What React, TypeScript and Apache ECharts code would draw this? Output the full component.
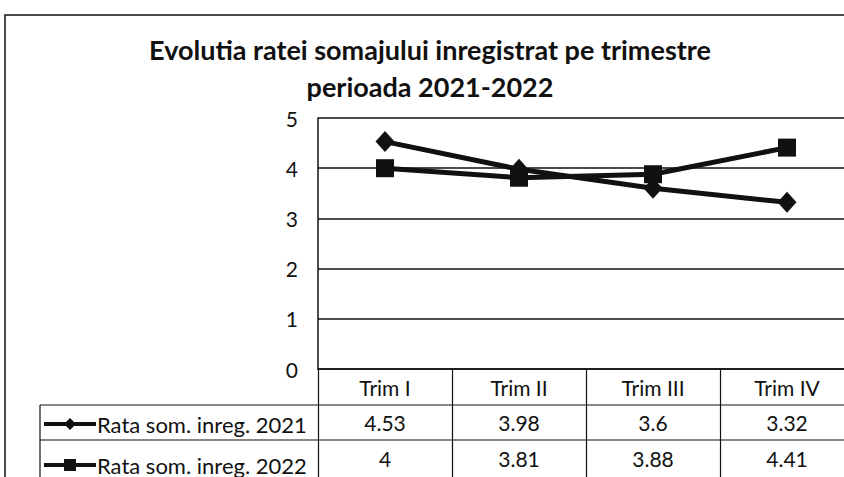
import React, { useEffect, useRef } from "react";
import * as echarts from "echarts";

const categories = ["Trim I", "Trim II", "Trim III", "Trim IV"];
const series2021 = [4.53, 3.98, 3.6, 3.32];
const series2022 = [4, 3.81, 3.88, 4.41];
const seriesNames = ["Rata som. inreg. 2021", "Rata som. inreg. 2022"];
const titleLines = ["Evolutia ratei somajului inregistrat pe trimestre", "perioada 2021-2022"];

const FONT = "Lato, 'Liberation Sans', sans-serif";
const INK = "#111";
const FS = 21;
const CH = 520; // chart canvas height (clipped to 477 by the wrapper)

export default function App() {
  const ref = useRef<HTMLDivElement>(null);
  useEffect(() => {
    if (!ref.current) return;
    const chart = echarts.init(ref.current, undefined, { renderer: "svg" });
    const tableAxis = (idx: number, values: number[]) => ({
      type: "category",
      data: values.map((v) => String(v)),
      position: "bottom",
      offset: 36 * idx,
      boundaryGap: true,
      axisLine: { show: false },
      axisTick: { show: false },
      splitLine: { show: false },
      axisLabel: {
        interval: 0,
        margin: 7,
        color: INK,
        fontFamily: FONT,
        fontSize: FS,
      },
    });
    chart.setOption({
      animation: false,
      backgroundColor: "#fff",
      title: {
        text: titleLines.join("\n"),
        left: "center",
        top: 26,
        textStyle: {
          fontFamily: FONT,
          fontWeight: "bold",
          fontSize: 27,
          lineHeight: 37,
          color: INK,
        },
      },
      legend: {
        orient: "vertical",
        left: 42,
        top: 413,
        padding: 0,
        itemWidth: 52,
        itemHeight: 15,
        itemGap: 19,
        data: seriesNames,
        lineStyle: { width: 4 },
        textStyle: { fontFamily: FONT, fontSize: 22, color: INK, lineHeight: 17, padding: [0, 0, 0, -4] },
      },
      grid: { left: 318, right: 6, top: 118, bottom: CH - 369, containLabel: false },
      xAxis: [
        {
          type: "category",
          data: categories,
          boundaryGap: true,
          axisLine: { show: true, lineStyle: { color: INK, width: 1.5 } },
          axisTick: { show: true, length: 150, lineStyle: { color: INK, width: 1.2 } },
          axisLabel: { interval: 0, margin: 8, color: INK, fontFamily: FONT, fontSize: FS },
        },
        tableAxis(1, series2021),
        tableAxis(2, series2022),
      ],
      yAxis: {
        type: "value",
        min: 0,
        max: 5,
        interval: 1,
        axisLine: { show: true, lineStyle: { color: INK, width: 1.5 } },
        axisTick: { show: false },
        splitLine: { show: true, lineStyle: { color: INK, width: 1.5 } },
        axisLabel: { margin: 20, color: INK, fontFamily: FONT, fontSize: FS },
      },
      series: [
        {
          name: seriesNames[0],
          type: "line",
          data: series2021,
          symbol: "diamond",
          symbolSize: [19, 21],
          lineStyle: { color: INK, width: 5 },
          itemStyle: { color: INK },
        },
        {
          name: seriesNames[1],
          type: "line",
          data: series2022,
          symbol: "rect",
          symbolSize: 18,
          lineStyle: { color: INK, width: 5 },
          itemStyle: { color: INK },
        },
      ],
      graphic: [
        {
          type: "rect",
          shape: { x: 5, y: 15, width: 900, height: 600 },
          style: { fill: "none", stroke: INK, lineWidth: 1.5 },
          silent: true,
        },
        {
          type: "line",
          shape: { x1: 40, y1: 405, x2: 860, y2: 405 },
          style: { stroke: INK, lineWidth: 1.2 },
        },
        {
          type: "line",
          shape: { x1: 40, y1: 440, x2: 860, y2: 440 },
          style: { stroke: INK, lineWidth: 1.2 },
        },
        {
          type: "line",
          shape: { x1: 40, y1: 405, x2: 40, y2: 520 },
          style: { stroke: INK, lineWidth: 1.2 },
        },
      ],
    });
    return () => chart.dispose();
  }, []);
  return (
    <div style={{ position: "absolute", left: 0, top: 0, width: 844, height: 477, overflow: "hidden", background: "#fff" }}>
      <div ref={ref} style={{ width: 860, height: CH }} />
    </div>
  );
}
